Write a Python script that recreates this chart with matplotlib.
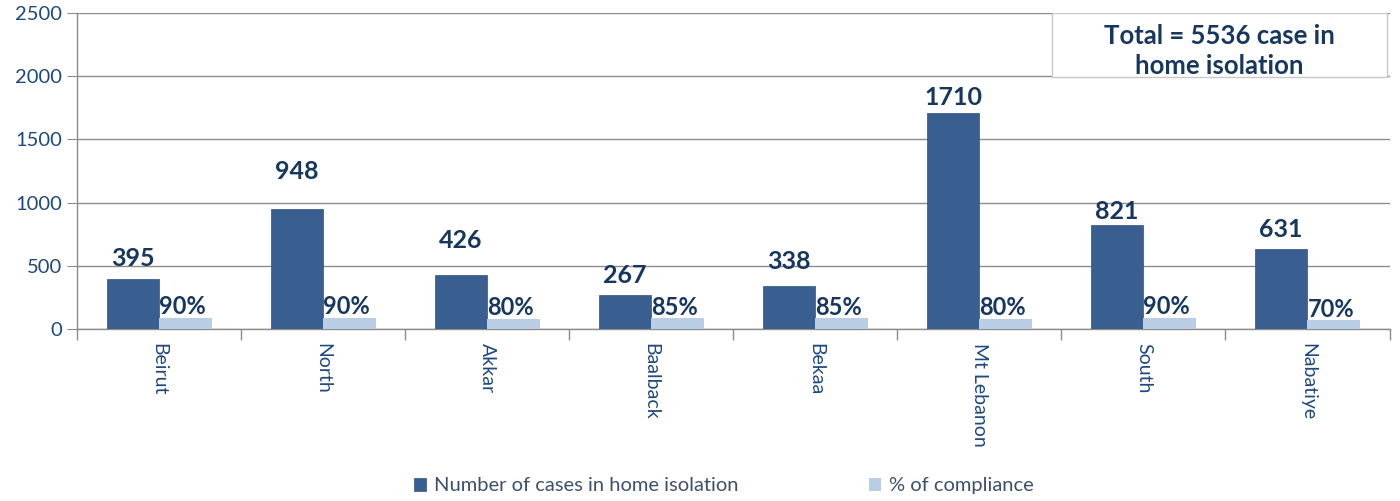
import matplotlib
matplotlib.use("Agg")
import matplotlib.pyplot as plt
from matplotlib.patches import Rectangle
import numpy as np

regions = ['Beirut', 'North', 'Akkar', 'Baalback', 'Bekaa', 'Mt Lebanon', 'South', 'Nabatiye']
cases = [395, 948, 426, 267, 338, 1710, 821, 631]
compliance = [90, 90, 80, 85, 85, 80, 90, 70]
total = 5536

dark = '#385F8F'
light = '#B9CDE5'
navy = '#17375E'
tick_blue = '#1F497D'
grid_c = '#8C8C8C'

plt.rcParams['font.family'] = ['Lato', 'DejaVu Sans']

fig = plt.figure(figsize=(14, 5.01), dpi=100)
ax = fig.add_axes([0.055, 0.3433, 0.9375, 0.631])

x = np.arange(len(regions))
w = 0.32
ax.bar(x - w / 2, cases, w, color=dark, edgecolor='#2E5280', linewidth=0.5, zorder=3,
       label='Number of cases in home isolation')
ax.bar(x + w / 2, compliance, w, color=light, zorder=3, label='% of compliance')

# label offsets in points (hand placed in the original)
lab_off = [15, 27, 25, 14, 18, 11, 10, 14]
for i, v in enumerate(cases):
    ax.annotate(str(v), (x[i] - w / 2, v), xytext=(0, lab_off[i]), textcoords='offset points',
                ha='center', va='center', fontsize=18, fontweight='bold', color=navy, zorder=5)
for i, v in enumerate(compliance):
    ax.annotate(f'{v}%', (x[i], v), xytext=(0, 8), textcoords='offset points',
                ha='left', va='center', fontsize=17, fontweight='bold', color=navy, zorder=5)

ax.set_xlim(-0.5, len(regions) - 0.5)
ax.set_ylim(0, 2500)
ax.set_yticks(range(0, 2501, 500))
ax.yaxis.grid(True, color=grid_c, linewidth=1, zorder=0)
ax.tick_params(axis='y', colors=tick_blue, labelsize=14.5, length=7, color=grid_c)
for t in ax.get_yticklabels():
    t.set_color(tick_blue)

ax.set_xticks(x)
ax.set_xticklabels(regions, rotation=270, fontsize=14, color=tick_blue)
ax.tick_params(axis='x', length=0, pad=10)
ax.set_xticks(np.arange(-0.5, len(regions)), minor=True)
ax.tick_params(axis='x', which='minor', length=8, color=grid_c, width=1)

for s in ['top', 'right']:
    ax.spines[s].set_visible(False)
for s in ['left', 'bottom']:
    ax.spines[s].set_color(grid_c)
    ax.spines[s].set_linewidth(1)

box = Rectangle((0.743, 0.797), 0.255, 0.203, transform=ax.transAxes,
                facecolor='white', edgecolor='#C8C8C8', linewidth=1, zorder=4)
ax.add_patch(box)
ax.text(0.8705, 0.878, f'Total = {total} case in\nhome isolation', transform=ax.transAxes,
        ha='center', va='center', fontsize=18.5, fontweight='bold', color=navy,
        linespacing=1.3, zorder=5)

fig.legend(loc='center', bbox_to_anchor=(0.517, 0.03), ncol=2, frameon=False,
           fontsize=14.5, handlelength=0.6, handleheight=0.6, columnspacing=6.5,
           handletextpad=0.4, labelcolor='#3F4F6B')

fig.savefig('out.png', dpi=100)
